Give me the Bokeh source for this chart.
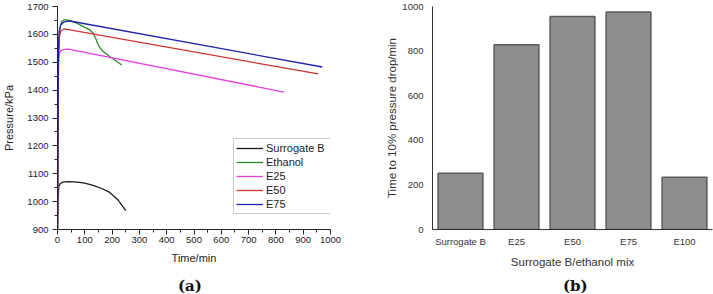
from bokeh.plotting import figure
from bokeh.layouts import row, column
from bokeh.models import (SingleIntervalTicker, FixedTicker, Legend, LegendItem,
                          Div, Range1d, FactorRange)
from bokeh.embed import file_html
from bokeh.resources import INLINE

# ---------------- data (a) ----------------
sb_t = [0, 2, 5, 10, 20, 40, 60, 80, 100, 130, 160, 190, 220, 250]
sb_p = [900, 1000, 1055, 1065, 1070, 1072, 1071, 1069, 1066, 1058, 1048, 1034, 1008, 968]

eth_t = [0, 3, 8, 15, 25, 35, 50, 70, 85, 100, 115, 130, 140, 150, 165, 185, 210, 235]
eth_p = [900, 1500, 1620, 1645, 1652, 1652, 1648, 1640, 1633, 1625, 1618, 1605, 1585, 1560, 1540, 1525, 1508, 1490]

e25_t = [0, 3, 6, 12, 25, 40, 830]
e25_p = [900, 1450, 1530, 1542, 1546, 1547, 1393]

e50_t = [0, 3, 6, 12, 25, 955]
e50_p = [900, 1500, 1590, 1612, 1620, 1458]

e75_t = [0, 3, 6, 12, 25, 45, 970]
e75_p = [900, 1520, 1610, 1635, 1645, 1648, 1483]

series_names = ["Surrogate B", "Ethanol", "E25", "E50", "E75"]
series_colors = ["#1a1a1a", "#2e8b2e", "#e040e0", "#cc3333", "#2222aa"]

# ---------------- data (b) ----------------
mix_cats = ["Surrogate B", "E25", "E50", "E75", "E100"]
drop_times = [252, 828, 955, 975, 234]

panel_tags = ["(a)", "(b)"]

FONT = "Liberation Sans"

# ---------------- figure (a) ----------------
p1 = figure(width=360, height=272, x_range=Range1d(0, 1000), y_range=Range1d(900, 1700),
            min_border_left=53, min_border_right=30, min_border_top=6, min_border_bottom=43,
            toolbar_location=None, output_backend="svg", outline_line_color=None)
p1.xgrid.visible = False
p1.ygrid.visible = False
p1.xaxis.ticker = SingleIntervalTicker(interval=100, num_minor_ticks=2)
p1.yaxis.ticker = SingleIntervalTicker(interval=100, num_minor_ticks=2)
for ax in (p1.xaxis, p1.yaxis):
    ax.axis_line_color = "#222222"
    ax.major_tick_line_color = "#222222"
    ax.minor_tick_line_color = "#222222"
    ax.major_tick_in = 0
    ax.minor_tick_in = 0
    ax.major_tick_out = 5
    ax.minor_tick_out = 3
    ax.major_label_text_font = FONT
    ax.major_label_text_font_size = "9.5px"
    ax.major_label_text_color = "#222222"
    ax.axis_label_text_font = FONT
    ax.axis_label_text_font_size = "11px"
    ax.axis_label_text_font_style = "normal"
    ax.axis_label_text_color = "#222222"
p1.xaxis.axis_label = "Time/min"
p1.yaxis.axis_label = "Pressure/kPa"
p1.xaxis.major_label_standoff = 2
p1.xaxis.axis_label_standoff = 6
p1.yaxis.major_label_standoff = 4
p1.yaxis.axis_label_standoff = 9

data_a = [(sb_t, sb_p), (eth_t, eth_p), (e25_t, e25_p), (e50_t, e50_p), (e75_t, e75_p)]
items = []
for (t, pr), name, col in zip(data_a, series_names, series_colors):
    r = p1.line(t, pr, line_color=col, line_width=1.3)
    items.append(LegendItem(label=name, renderers=[r]))

legend = Legend(items=items, location=(176, 15), label_text_font=FONT,
                label_text_font_size="11px", label_text_color="#222222",
                glyph_width=27, glyph_height=14, label_height=14, spacing=0,
                padding=2, label_standoff=3, label_width=70, margin=0,
                border_line_color="#999999", border_line_width=1,
                background_fill_color="white", background_fill_alpha=1)
p1.add_layout(legend)

# ---------------- figure (b) ----------------
p2 = figure(width=353, height=272, x_range=FactorRange(factors=mix_cats),
            y_range=Range1d(0, 1000),
            min_border_left=72, min_border_right=1, min_border_top=5, min_border_bottom=43,
            toolbar_location=None, output_backend="svg", outline_line_color=None)
p2.xgrid.visible = False
p2.ygrid.visible = False
p2.vbar(x=mix_cats, top=drop_times, width=0.8, fill_color="#8e8e8e",
        line_color="#5a5a5a", line_width=1.5)
p2.yaxis.ticker = FixedTicker(ticks=[0, 200, 400, 600, 800, 1000])
for ax in (p2.xaxis, p2.yaxis):
    ax.axis_line_color = "#333333"
    ax.major_tick_line_color = None
    ax.minor_tick_line_color = None
    ax.major_tick_out = 0
    ax.major_tick_in = 0
    ax.major_label_text_font = FONT
    ax.major_label_text_font_size = "9.5px"
    ax.major_label_text_color = "#333333"
    ax.axis_label_text_font = FONT
    ax.axis_label_text_font_size = "11.5px"
    ax.axis_label_text_font_style = "normal"
    ax.axis_label_text_color = "#333333"
p2.xaxis.axis_label = "Surrogate B/ethanol mix"
p2.yaxis.axis_label = "Time to 10% pressure drop/min"
p2.xaxis.major_label_standoff = 6
p2.xaxis.axis_label_standoff = 6
p2.yaxis.major_label_standoff = 9
p2.yaxis.axis_label_standoff = 1

tag_style = {"font-family": "DejaVu Serif", "font-weight": "bold", "font-size": "15px",
             "color": "#111111", "line-height": "28px", "white-space": "nowrap"}
div_a = Div(text=panel_tags[0], width=360, height=22, margin=0,
            styles=dict(tag_style, **{"padding-left": "178px"}))
div_b = Div(text=panel_tags[1], width=353, height=22, margin=0,
            styles=dict(tag_style, **{"padding-left": "203px"}))

layout = column(row(p1, p2, spacing=0), row(div_a, div_b, spacing=0), spacing=0)
open("out.html", "w").write(file_html(layout, INLINE))
